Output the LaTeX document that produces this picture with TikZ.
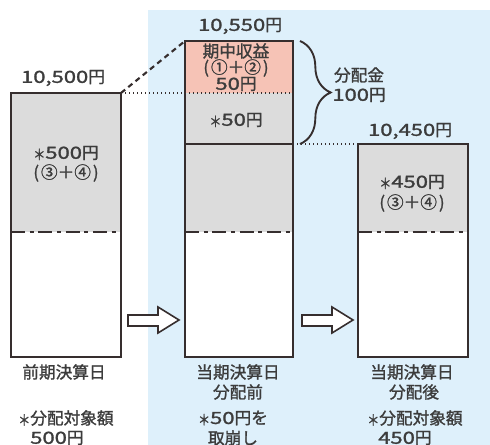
\documentclass[tikz,border=0pt]{standalone}
\usepackage{graphicx}
\usepackage{fontspec}
\setmainfont{Noto Sans CJK JP}[FakeBold=1.3]
\usetikzlibrary{decorations.pathreplacing}
\definecolor{bgblue}{HTML}{DEF0FB}
\definecolor{boxgray}{HTML}{DCDCDC}
\definecolor{pinkfill}{HTML}{F6C3B6}
\definecolor{ink}{HTML}{362E2E}
\definecolor{txt}{HTML}{3C3C3C}
\newcommand\astr{\raisebox{-0.08em}{\scalebox{0.72}[0.9]{＊}}}
\newcommand\wnum[1]{\scalebox{1.32}[1]{#1}}
\newcommand\cpar[1]{(\kern0.12em#1\kern0.12em)}
\begin{document}
\begin{tikzpicture}[x=0.75pt,y=-0.75pt,
  lbl/.style={text=txt,font=\fontsize{12.5}{14}\selectfont,inner sep=0pt},
  boxnode/.style={rectangle,inner sep=0pt,outer sep=0pt},
  boxline/.style={draw=ink,line width=1.6pt},
  dashdotline/.style={draw=ink,line width=1.6pt,dash pattern=on 10.5pt off 3.5pt on 3pt off 3.5pt},
  dotline/.style={draw=ink,line width=1pt,dotted},
  dashline/.style={draw=ink,line width=1.6pt,dash pattern=on 4pt off 3pt},
  blockarrow/.style={draw=ink,fill=white,line width=1.2pt,line join=miter},
  bracestyle/.style={draw=ink,line width=1.4pt,decorate,decoration={brace,amplitude=23pt}}]
\useasboundingbox (0,0) rectangle (490,445);
\fill[bgblue] (148,10) rectangle (490,445);

% box frames (named)
\node[boxnode,minimum width=82.5pt,minimum height=198pt] (L) at (66,225) {};
\node[boxnode,minimum width=81pt,minimum height=237pt] (M) at (239,199) {};
\node[boxnode,minimum width=82.5pt,minimum height=159.75pt] (R) at (413,250.5) {};

% fills
\fill[white] (L.south west) rectangle (L.north east);
\fill[boxgray] (L.north west) rectangle (121,232);
\fill[white] (M.south west) rectangle (M.north east);
\fill[pinkfill] (M.north west) rectangle (293,93);
\fill[boxgray] (185,93) rectangle (293,232);
\fill[white] (R.south west) rectangle (R.north east);
\fill[boxgray] (R.north west) rectangle (468,232);

% dash-dot lines
\draw[dashdotline] (11,232) -- (121,232);
\draw[dashdotline] (185,232) -- (293,232);
\draw[dashdotline] (358,232) -- (468,232);

% inner lines of middle box
\draw[dotline] (L.north east) -- (M.east |- L.north east);
\draw[boxline] (185,144) -- (293,144);
\draw[dotline] (M.east |- R.north) -- (R.north west);
\draw[dashline] (L.north east) -- (M.north west);

% frames
\draw[boxline] (L.south west) rectangle (L.north east);
\draw[boxline] (M.south west) rectangle (M.north east);
\draw[boxline] (R.south west) rectangle (R.north east);

% brace
\draw[bracestyle] (300,41) -- (300,144);
\node[lbl] (bk1) at (359,75) {分配金};
\node[lbl] (bk2) at (359,95) {\wnum{100}円};

% block arrows
\draw[blockarrow] (128,315) -- (158,315) -- (158,307) -- (179,320) -- (158,333) -- (158,326) -- (128,326) -- cycle;
\draw[blockarrow] (302,315) -- (332,315) -- (332,307) -- (353,320) -- (332,333) -- (332,326) -- (302,326) -- cycle;

% top labels
\node[lbl] (t1) at (63,78) {\wnum{10,500}円};
\node[lbl] (t2) at (240,26) {\wnum{10,550}円};
\node[lbl] (t3) at (410,131) {\wnum{10,450}円};

% box contents
\node[lbl] (l1) at (66,153) {{\astr}\wnum{500}円};
\node[lbl] (l2) at (66,173) {\cpar{③＋④}};
\node[lbl] (m1) at (236,51) {期中収益};
\node[lbl] (m2) at (236,68) {\cpar{①＋②}};
\node[lbl] (m3) at (236,84) {\wnum{50}円};
\node[lbl] (m4) at (236,120) {{\astr}\wnum{50}円};
\node[lbl] (r1) at (412,182) {{\astr}\wnum{450}円};
\node[lbl] (r2) at (412,203) {\cpar{③＋④}};

% bottom labels
\node[lbl] (b1) at (64,372) {前期決算日};
\node[lbl,anchor=west] (b2) at (18,418) {{\astr}分配対象額};
\node[lbl,anchor=west] (b3) at (30,438) {\wnum{500}円};
\node[lbl] (c1) at (238,372) {当期決算日};
\node[lbl] (c2) at (238,392) {分配前};
\node[lbl] (c3) at (233,418) {{\astr}\wnum{50}円を};
\node[lbl] (c4) at (233,438) {取崩し};
\node[lbl] (d1) at (412,372) {当期決算日};
\node[lbl] (d2) at (414,392) {分配後};
\node[lbl,anchor=west] (d3) at (367,418) {{\astr}分配対象額};
\node[lbl,anchor=west] (d4) at (378,438) {\wnum{450}円};
\end{tikzpicture}
\end{document}
